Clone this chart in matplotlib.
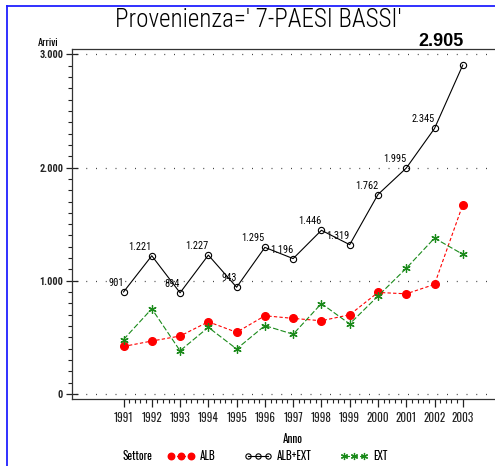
import matplotlib
matplotlib.use("Agg")
import matplotlib.pyplot as plt
from matplotlib.lines import Line2D
from matplotlib.ticker import FixedLocator

years = [1991, 1992, 1993, 1994, 1995, 1996, 1997, 1998, 1999, 2000, 2001, 2002, 2003]
alb_ext = [901, 1221, 894, 1227, 943, 1295, 1196, 1446, 1319, 1762, 1995, 2345, 2905]
alb = [420, 468, 512, 638, 545, 691, 668, 647, 700, 897, 885, 968, 1671]
ext = [481, 753, 382, 589, 398, 604, 528, 799, 619, 865, 1110, 1377, 1234]
y_ticks = [0, 1000, 2000, 3000]
y_labels = ["0", "1.000", "2.000", "3.000"]
title = "Provenienza=' 7-PAESI BASSI'"

BOLDN = ["Oswald", "DejaVu Sans"]
REGN = ["Roboto Condensed", "DejaVu Sans"]
TITLEF = ["Roboto Condensed", "DejaVu Sans"]


def fmt(v):
    return f"{int(v):,}".replace(",", ".")


W, H = 495, 466
fig = plt.figure(figsize=(W / 100, H / 100), dpi=100)

L, R, B, T = 71.5, 495, 399, 49
ax = fig.add_axes([L / W, 1 - B / H, (R - L) / W, (B - T) / H])
ax.set_xlim(1989.16, 2004.14)
ax.set_ylim(-44, 3047)

ax.spines["right"].set_visible(False)
for s in ["left", "bottom", "top"]:
    ax.spines[s].set_linewidth(0.9)
    ax.spines[s].set_color("#333333")

for v in y_ticks:
    ax.axhline(v, xmin=0.01, xmax=0.99, color="#444444", lw=0.9,
               linestyle=(0, (0.8, 7)), zorder=1)

ax.plot(years, alb, color="#ff0000", lw=0.8, linestyle=(0, (3, 2)),
        marker="o", markersize=5.5, markerfacecolor="#ff0000",
        markeredgecolor="#ff0000", label="ALB", zorder=3)
ax.plot(years, alb_ext, color="black", lw=0.8, linestyle="-",
        marker="o", markersize=4.5, markerfacecolor="none",
        markeredgecolor="black", markeredgewidth=0.8, label="ALB+EXT", zorder=3)
ax.plot(years, ext, color="#1a8a1a", lw=0.8, linestyle=(0, (5, 2)),
        marker=(6, 2, 0), markersize=6, markeredgecolor="#1a8a1a",
        markeredgewidth=0.9, label="EXT", zorder=3)

for i, (x, v) in enumerate(zip(years, alb_ext)):
    if i == len(years) - 1:
        ax.annotate(fmt(v), (x, v), xytext=(1, 15), textcoords="offset pixels",
                    ha="right", va="bottom", fontsize=13, fontweight="bold",
                    family=["Liberation Sans", "DejaVu Sans"], zorder=5)
    else:
        ax.annotate(fmt(v), (x, v), xytext=(0, 4), textcoords="offset pixels",
                    ha="right", va="bottom", fontsize=7.5, family=REGN, zorder=5)

ax.set_xticks(years)
ax.set_xticklabels([str(y) for y in years], family=BOLDN, fontsize=8,
                   fontweight="bold")
minor_x = [round(y + k * 0.2, 1) for y in years[:-1] for k in range(1, 5)]
ax.xaxis.set_minor_locator(FixedLocator(minor_x))
ax.tick_params(axis="x", which="major", direction="out", length=6, width=0.9,
               pad=3, colors="#222222")
ax.tick_params(axis="x", which="minor", direction="out", length=3, width=0.8,
               colors="#222222")

ax.set_yticks(y_ticks)
ax.set_yticklabels(y_labels, family=REGN, fontsize=7.5, fontweight="bold")
ax.yaxis.set_minor_locator(FixedLocator([v for v in range(0, 3001, 100)
                                         if v % 1000]))
ax.tick_params(axis="y", which="major", direction="inout", length=8, width=0.9,
               pad=2, colors="#222222")
ax.tick_params(axis="y", which="minor", direction="out", length=3, width=0.8,
               colors="#222222")

fig.text(58 / W, 1 - 48 / H, "Arrivi", ha="right", va="bottom",
         fontsize=7.5, family=BOLDN, fontweight="bold")
fig.text(258 / W, 1 - 20 / H, title, ha="center", va="center",
         fontsize=18, family=TITLEF, fontweight="light")
ax.text(1997, -0.113, "Anno", transform=ax.get_xaxis_transform(),
        ha="center", va="center", fontsize=8, family=BOLDN, fontweight="bold")

fig.text(137 / W, 1 - 456 / H, "Settore", ha="center", va="center",
         fontsize=8, family=BOLDN, fontweight="bold")
handles, labels = ax.get_legend_handles_labels()
leg = fig.legend(handles, labels, loc="center left",
                 bbox_to_anchor=(168 / W, 1 - 456 / H), ncol=3, frameon=False,
                 numpoints=3, handlelength=2.4, handletextpad=0.5,
                 columnspacing=2.6, borderpad=0, borderaxespad=0,
                 markerscale=0.85,
                 prop={"family": BOLDN, "size": 8, "weight": "bold"})

fig.add_artist(Line2D([7 / W, 1], [1 - 6 / H, 1 - 6 / H], color="#2020ff",
                      lw=1.3, transform=fig.transFigure))
fig.add_artist(Line2D([7 / W, 7 / W], [1 - 6 / H, 0], color="#2020ff",
                      lw=1.3, transform=fig.transFigure))

fig.savefig("out.png", dpi=100)
